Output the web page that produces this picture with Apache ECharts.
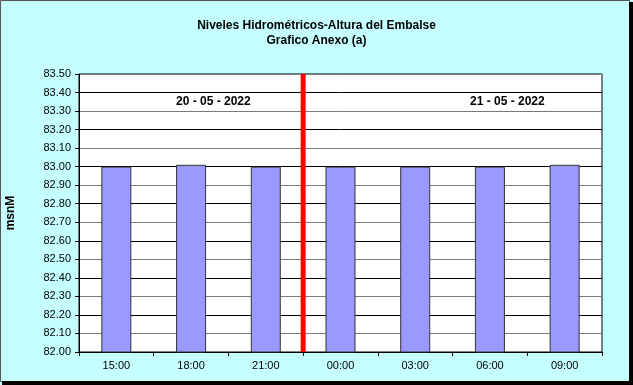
<!DOCTYPE html>
<html><head><meta charset="utf-8">
<script src="https://cdn.jsdelivr.net/npm/echarts@6/dist/echarts.min.js"></script>
<style>html,body{margin:0;padding:0;background:#c6ffff;}#c{width:633px;height:385px;}</style>
</head><body><div id="c"></div>
<script>
const categories = ['15:00','18:00','21:00','00:00','03:00','06:00','09:00'];
const levels = [83.00, 83.01, 83.00, 83.00, 83.00, 83.00, 83.01];
const dayLabels = ['20 - 05 - 2022', '21 - 05 - 2022'];
const dividerAfter = '21:00';
const yMin = 82.0, yMax = 83.5, yStep = 0.1;
const titleLines = ['Niveles Hidrométricos-Altura del Embalse', 'Grafico Anexo (a)'];
const yName = 'msnM';

const chart = echarts.init(document.getElementById('c'), null, {renderer:'canvas'});
const divX = categories.indexOf(dividerAfter) + 1;
const font = '"Liberation Sans", Arial, sans-serif';
chart.setOption({
  animation:false,
  backgroundColor:'#c6ffff',
  title:{text:titleLines.join('\n'), left:'center', top:13, textStyle:{fontFamily:font, fontSize:12, fontWeight:'bold', color:'#000', lineHeight:15}},
  grid:{left:79, right:31, top:74, bottom:33, containLabel:false, outerBoundsMode:'none', show:true, backgroundColor:'#fff', borderColor:'#000', borderWidth:1},
  xAxis:[
    {type:'category', data:categories, boundaryGap:true,
     axisLine:{lineStyle:{color:'#000'}}, axisTick:{show:true, length:4, lineStyle:{color:'#000'}},
     axisLabel:{fontFamily:font, fontSize:11, color:'#000', margin:8}},
    {type:'value', min:0, max:categories.length, show:false}
  ],
  yAxis:{type:'value', min:yMin, max:yMax, interval:yStep, name:yName, nameLocation:'middle', nameGap:62, nameRotate:90,
    nameTextStyle:{fontFamily:font, fontSize:12, fontWeight:'bold', color:'#000'},
    axisLine:{show:true, lineStyle:{color:'#000'}}, axisTick:{show:true, length:4, lineStyle:{color:'#000'}},
    axisLabel:{fontFamily:font, fontSize:11, color:'#000', margin:8, formatter:v=>v.toFixed(2)},
    splitLine:{show:true, lineStyle:{color:['#000','#7a7a7a'], width:1}}},
  series:[
    {type:'bar', data:levels, barWidth:30, itemStyle:{color:'#9999ff', borderColor:'#333', borderWidth:1}},
    {type:'line', xAxisIndex:1, data:[[divX, yMin],[divX, yMax]], symbol:'none', lineStyle:{color:'#ff0000', width:5}, z:5}
  ],
  graphic:[
    {type:'text', left:176, top:96, style:{text:dayLabels[0], font:'bold 12px '+font, fill:'#000'}},
    {type:'text', left:470, top:96, style:{text:dayLabels[1], font:'bold 12px '+font, fill:'#000'}},
    {type:'rect', shape:{x:0.5, y:0.5, width:629, height:381}, style:{fill:'none', stroke:'#555', lineWidth:1}, z:100},
    {type:'rect', shape:{x:629, y:2, width:4, height:383}, style:{fill:'#000'}, z:100},
    {type:'rect', shape:{x:2, y:381, width:631, height:4}, style:{fill:'#000'}, z:100}
  ]
});
</script></body></html>
